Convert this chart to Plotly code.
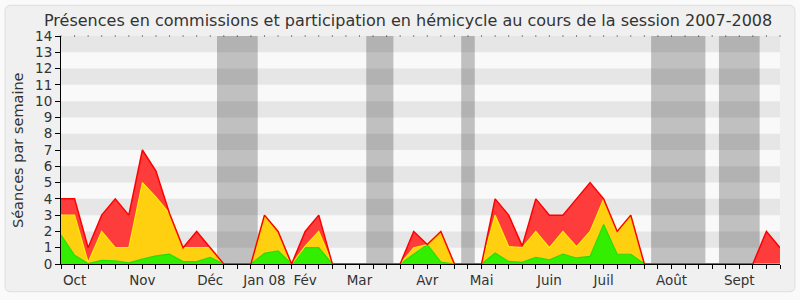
import plotly.graph_objects as go

# ---- data ----
weeks = list(range(54))
month_labels = ["Oct", "Nov", "Déc", "Jan 08", "Fév", "Mar", "Avr", "Mai", "Juin", "Juil", "Août", "Sept"]
month_weeks = [1, 6, 11, 15, 18, 22, 27, 31, 36, 40, 45, 50]
vacation_weeks = [(11.5, 14.5), (22.5, 24.5), (29.5, 30.5), (43.5, 47.5), (48.5, 51.5)]

green = [1.78, 0.53, 0.03, 0.22, 0.2, 0.07, 0.3, 0.5, 0.6, 0.15, 0.15, 0.4, 0, 0, 0,
         0.65, 0.8, 0, 1.0, 1.0, 0, 0, 0, 0, 0, 0, 0.6, 1.2, 0.12, 0, 0, 0,
         0.67, 0.16, 0.1, 0.4, 0.26, 0.6, 0.37, 0.47, 2.43, 0.6, 0.6,
         0, 0, 0, 0, 0, 0, 0, 0, 0, 0, 0]
yellow = [1.22, 2.47, 0.07, 1.78, 0.8, 0.93, 4.7, 3.6, 2.5, 0.85, 0.85, 0.6, 0, 0, 0,
          2.35, 1.2, 0, 0.1, 1.0, 0, 0, 0, 0, 0, 0, 0.4, 0, 1.88, 0, 0, 0,
          2.33, 0.91, 0.9, 1.6, 0.74, 1.4, 0.7, 1.53, 1.57, 1.4, 2.4,
          0, 0, 0, 0, 0, 0, 0, 0, 0, 0, 0]
red = [1, 1, 0.9, 1, 3, 2, 2, 1.6, 0, 0, 1, 0, 0, 0, 0,
       0, 0, 0, 0.9, 1, 0, 0, 0, 0, 0, 0, 1, 0, 0, 0, 0, 0,
       1, 1.93, 0.1, 2, 2, 1, 2.93, 3, 0, 0, 0,
       0, 0, 0, 0, 0, 0, 0, 0, 0, 2, 1]

Y_MAX = 14

title = "Présences en commissions et participation en hémicycle au cours de la session 2007-2008"
ytitle = "Séances par semaine"

# ---- geometry (pixels) ----
W, H = 800, 300
ML, MR, MT, MB = 61, 20, 36, 34
PW, PH = W - ML - MR, H - MT - MB


def px2paper_x(px):
    return (px - ML) / PW


def px2paper_y(py):
    return (H - MB - py) / PH


FONT = "DejaVu Sans"
fig = go.Figure()

for vals, fc, lc, lw in [(green, "#33ee00", "#22dd00", 1.2),
                         (yellow, "#ffd00f", "#ffee00", 1.2),
                         (red, "#ff3c3c", "#ff0000", 1.5)]:
    fig.add_trace(go.Scatter(x=weeks, y=vals, stackgroup="one", mode="lines",
                             line=dict(color=lc, width=lw), fillcolor=fc,
                             hoverinfo="skip", showlegend=False))

# top dotted line
fig.add_trace(go.Scatter(x=weeks, y=[Y_MAX] * len(weeks), mode="markers",
                         marker=dict(symbol="square", size=1, color="#222", line=dict(width=0)),
                         cliponaxis=False, hoverinfo="skip", showlegend=False))

shapes = []
# outer rounded box (paper)
x0, x1, y0, y1, r = 5, 795, 5, 294, 6


def P(px, py):
    return f"{px2paper_x(px):.5f},{px2paper_y(py):.5f}"


path = (f"M {P(x0 + r, y0)} L {P(x1 - r, y0)} Q {P(x1, y0)} {P(x1, y0 + r)} "
        f"L {P(x1, y1 - r)} Q {P(x1, y1)} {P(x1 - r, y1)} "
        f"L {P(x0 + r, y1)} Q {P(x0, y1)} {P(x0, y1 - r)} "
        f"L {P(x0, y0 + r)} Q {P(x0, y0)} {P(x0 + r, y0)} Z")
shapes.append(dict(type="path", path=path, xref="paper", yref="paper", layer="below",
                   fillcolor="#f0f0f0", line=dict(color="#dedede", width=1)))
# plot background
shapes.append(dict(type="rect", xref="x", yref="y", x0=weeks[0], x1=weeks[-1], y0=0, y1=Y_MAX,
                   fillcolor="#f9f9f9", line=dict(width=0), layer="below"))
# stripes
for k in range(1, Y_MAX, 2):
    shapes.append(dict(type="rect", xref="x", yref="y", x0=weeks[0], x1=weeks[-1], y0=k, y1=k + 1,
                       fillcolor="#e6e6e6", line=dict(width=0), layer="below"))
# vacations
for a, b in vacation_weeks:
    shapes.append(dict(type="rect", xref="x", yref="y", x0=a, x1=b, y0=0, y1=Y_MAX,
                       fillcolor="rgba(30,30,30,0.26)", line=dict(width=0), layer="below"))

ticktext = [month_labels[month_weeks.index(w)] if w in month_weeks else "" for w in weeks]

fig.update_layout(
    width=W, height=H, autosize=False,
    margin=dict(l=ML, r=MR, t=MT, b=MB),
    paper_bgcolor="#fafafa", plot_bgcolor="rgba(0,0,0,0)",
    shapes=shapes,
    showlegend=False, hovermode=False,
    font=dict(family=FONT, color="#333"),
    xaxis=dict(range=[weeks[0], weeks[-1]], tickmode="array", tickvals=weeks, ticktext=ticktext,
               ticks="outside", ticklen=4, tickcolor="#000", tickwidth=1,
               showline=True, linecolor="#000", linewidth=1, showgrid=False, zeroline=False,
               tickfont=dict(size=13.5, family=FONT, color="#333")),
    yaxis=dict(range=[0, Y_MAX], dtick=1, tick0=0,
               ticks="outside", ticklen=5, tickcolor="#000", tickwidth=1,
               showline=True, linecolor="#000", linewidth=1, showgrid=False, zeroline=False,
               tickfont=dict(size=13.5, family=FONT, color="#333")),
    annotations=[
        dict(text=title, xref="paper", yref="paper", x=px2paper_x(408), y=px2paper_y(20),
             xanchor="center", yanchor="middle", showarrow=False,
             font=dict(size=16, family=FONT, color="#333")),
        dict(text=ytitle, xref="paper", yref="paper", x=px2paper_x(18), y=0.5,
             xanchor="center", yanchor="middle", showarrow=False, textangle=-90,
             font=dict(size=14.5, family=FONT, color="#333")),
    ],
)

fig.write_html("out.html")
